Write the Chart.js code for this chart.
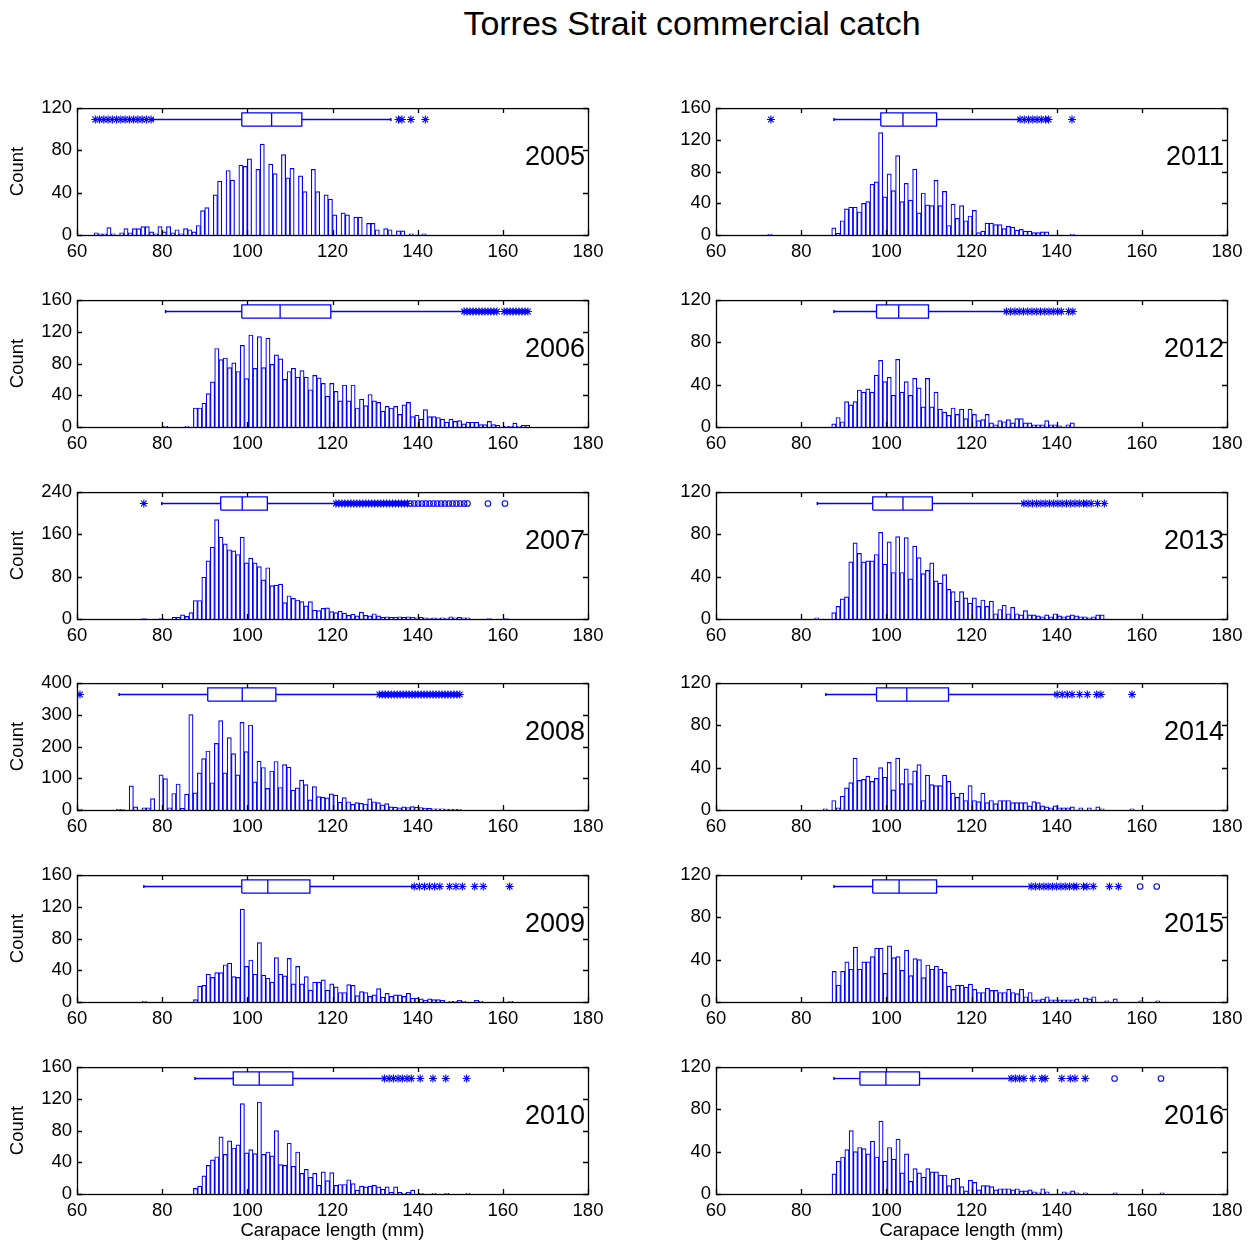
<!DOCTYPE html>
<html>
<head>
<meta charset="utf-8">
<script src="https://cdn.jsdelivr.net/npm/chart.js@4.4.0/dist/chart.umd.min.js"></script>
<style>
  body { margin: 0; background: #fff; overflow: hidden; width: 1250px; height: 1243px; position: relative;
         font-family: "Liberation Sans", Arial, sans-serif; }
  #title { position: absolute; left: 692px; top: 4px; transform: translateX(-50%);
           font-size: 34px; line-height: 38px; white-space: nowrap; color: #000; }
  canvas { position: absolute; }
</style>
</head>
<body>
<div id="title">Torres Strait commercial catch</div>
<script>
// panels: left column 2005-2010, right column 2011-2016
const years = [2005, 2006, 2007, 2008, 2009, 2010, 2011, 2012, 2013, 2014, 2015, 2016];
// left edge (mm) of the first 1 mm bin in each histogram
const binStart = [64, 80.33, 75.3, 60.25, 75.33, 87.33, 72.17, 87.17, 83.17, 85.17, 87.25, 87.25];
const yMax  = [120, 160, 240, 400, 160, 160, 160, 120, 120, 120, 120, 120];
const yStep = [40, 40, 80, 100, 40, 40, 40, 40, 40, 40, 40, 40];

// histogram counts, one per 1 mm bin
const c2005 = [2,1,1,7,1,0,2,6,2,6, 6,8,8,3,1,8,3,8,2,5, 1,6,5,3,9,23,26,0,38,51, 0,61,52,0,66,65,72,0,62,86,
  0,67,58,0,76,54,63,0,56,41, 0,62,41,0,38,34,19,0,21,19, 0,17,17,0,11,11,5,0,6,5, 0,4,4,0,1,0,0,1];
const c2006 = [1,0,0,0,0,1,0,
  24,24,30,42,57,99,85,87,75,81, 70,103,61,116,74,114,75,112,79,91, 86,60,70,74,63,71,63,47,65,62,
  55,39,55,45,33,53,33,53,24,35, 27,41,33,31,20,26,24,26,16,28, 31,13,15,10,22,13,13,12,10,6,
  10,7,8,4,6,6,6,3,3,7, 3,2,0,1,1,5,1,2,2];
const c2007 = [1,0,0,0,1,0,0,
  3,3,8,5,12,35,35,79,110,136, 188,155,142,131,129,122,155,106,115,106, 99,74,97,63,64,66,31,44,39,36,
  33,25,33,17,16,20,21,14,12,15, 11,7,9,6,13,7,6,10,
  6,3,4,3,3,4,3,4,3,2,3,2,1,2,1,2,1,4,2,3,2,2, 0,0,0,0,1,0,0,0,1];
const c2008 = [3,0,0,0,0,0,0,0,0,2, 1,0,76,10,0,7,7,36,0,111, 99,7,52,82,5,50,301,54,117,162,
  186,86,210,282,117,228,178,111,276,184, 268,89,154,134,68,123,153,71,143,135, 63,70,94,80,32,74,42,40,38,51,
  47,25,39,26,18,23,21,19,35,26, 23,16,20,10,9,7,10,8,11,9, 8,6,5,4,4,4,3,3,2,2];
const c2009 = [1,0,0,0,0,0,0,0,0,0,0,0,
  3,20,21,35,31,37,37,47,49,32, 31,117,45,53,35,75,34,30,25,56, 35,33,55,23,45,23,32,15,25,25,
  28,15,23,19,12,12,22,21,8,13, 12,7,9,17,6,11,7,9,9,7, 11,5,5,4,2,4,3,3,2,0,
  1,1,2,1,0,0,2,1,0,0, 0,0,0,0,1];
const c2010 = [7,10,23,36,43,47,72,50,67,58, 62,114,52,56,51,116,50,53,48,80, 37,36,64,35,53,26,31,21,26,11,
  28,17,27,11,12,12,18,13,5,10, 9,10,11,9,6,9,2,9,2,1, 2,5,0,1,0,0,1,0,0,1, 0,0,0,0,1];
const c2011 = [1,0,0,0,0,0,0,0,0,0,0,0,0,0,0,
  9,2,18,33,35,35,29,40,42,64, 67,129,48,77,56,100,42,65,44,83, 28,53,38,37,69,37,55,12,39,21,
  37,18,24,31,3,5,15,15,13,13, 8,11,10,6,7,5,5,3,3,4, 4, 0,0,0,0,0,1];
const c2012 = [3,9,5,24,21,24,35,33,36,33, 49,63,43,47,30,64,33,43,30,46, 37,19,46,19,33,17,14,11,18,12,
  17,8,17,12,6,7,12,4,2,6, 5,7,4,8,8,4,4,2,2,2, 6,2,2,1,0,2,4];
const c2013 = [1,0,0,0,
  6,12,19,21,54,72,62,54,55,55, 61,82,52,73,44,78,44,77,38,69, 58,43,46,53,36,34,42,28,26,17,
  26,20,15,20,12,18,12,17,5,9, 13,5,11,5,4,8,4,4,3,2, 4,2,5,3,2,3,4,3,2,2, 1,2,4,4];
const c2014 = [1,0,
  9,2,13,21,26,49,28,29,32,27, 30,40,31,45,19,49,25,39,25,37, 43,9,33,24,23,23,33,27,16,12,
  16,9,23,9,8,16,7,9,6,9, 9,9,7,7,7,7,4,8,7,4, 3,2,4,2,2,2,3,0,2,0, 2,0,3,1, 0,0,0,0,0,0,1];
const c2015 = [29,16,29,38,31,52,31,38,38,43, 51,51,27,53,42,43,30,49,25,41, 40,23,35,31,34,31,28,15,12,16,
  16,14,17,12,9,9,13,11,11,9, 9,12,9,8,12,5,9,2,2,3, 5,2,2,2,2,2,2,3,0,4, 3,5,0,0,1,0,3,0,0,0, 0,0,1,0,0,0,1];
const c2016 = [19,31,35,42,60,40,44,43,38,50, 35,69,31,44,33,52,20,38,12,24, 20,16,24,21,21,18,18,8,14,15,
  7,3,13,11,4,8,8,7,4,5, 5,5,4,5,3,3,4,2,1,5, 2,0,0,0,2,1,3,1,0,1, 0,0,0,0,0,0,1,0,0,0, 0,0,0,0,0,0,0,1];
const counts = [c2005, c2006, c2007, c2008, c2009, c2010, c2011, c2012, c2013, c2014, c2015, c2016];

// box plot summaries (mm)
const q1        = [98.7, 98.7, 93.75, 90.7, 98.7, 96.7, 98.7, 97.7, 96.8, 97.7, 96.8, 93.8];
const median    = [105.7, 107.7, 98.8, 98.8, 104.8, 102.8, 103.9, 102.9, 103.9, 104.8, 103.0, 99.9];
const q3        = [112.8, 119.6, 104.7, 106.7, 114.7, 110.7, 111.8, 109.9, 110.8, 114.6, 111.8, 107.8];
const whiskerLo = [77.9, 80.8, 79.9, 69.9, 75.7, 87.7, 87.7, 87.7, 83.8, 85.8, 87.7, 87.7];
const whiskerHi = [133.7, 150.6, 120.6, 130.8, 138.6, 132.0, 131.0, 127.9, 132.0, 139.5, 133.8, 129.1];

// outliers drawn as '*'
const out2005 = [64.3, 65.3, 66.3, 67.3, 68.3, 69.3, 70.3, 71.3, 72.3, 73.3, 74.3, 75.3, 76.3, 77.4, 135.5, 136.3, 138.4, 141.8];
const out2006 = [150.9, 151.6, 152.3, 153, 153.7, 154.4, 155.1, 155.8, 156.5, 157.2, 157.9, 158.6,
  160.3, 161.0, 161.7, 162.4, 163.1, 163.8, 164.5, 165.2, 165.9];
const out2007 = [75.7, 120.8, 121.5, 122.2, 122.9, 123.6, 124.3, 125, 125.7, 126.4, 127.1, 127.8, 128.5, 129.2,
  129.9, 130.6, 131.3, 132, 132.7, 133.4, 134.1, 134.8, 135.5, 136.2, 136.9, 137.6];
const out2008 = [60.7, 131, 131.7, 132.4, 133.1, 133.8, 134.5, 135.2, 135.9, 136.6, 137.3, 138, 138.7, 139.4, 140.1,
  140.8, 141.5, 142.2, 142.9, 143.6, 144.3, 145, 145.7, 146.4, 147.1, 147.8, 148.5, 149.2, 149.9];
const out2009 = [139.2, 140.4, 141.6, 142.8, 144, 145.2, 147.5, 149, 150.5, 153.4, 155.4, 161.6];
const out2010 = [132.2, 133.3, 134.3, 135.4, 136.4, 137.5, 138.5, 140.6, 143.6, 146.6, 151.5];
const out2011 = [72.9, 131.4, 132.4, 133.4, 134.4, 135.4, 136.4, 137.4, 138.1, 143.6];
const out2012 = [128.2, 129.2, 130.2, 131.2, 132.2, 133.2, 134.2, 135.2, 136.2, 137.2, 138.2, 139.2, 140.2, 141.1, 142.8, 143.8];
const out2013 = [132.3, 133.3, 134.3, 135.3, 136.3, 137.3, 138.3, 139.3, 140.3, 141.3, 142.3, 143.3, 144.3, 145.3,
  146.3, 147.1, 148.1, 149.6, 151.2];
const out2014 = [140.1, 141.3, 142.5, 143.6, 145.4, 147.2, 149.4, 150.4, 157.7];
const out2015 = [134, 135, 136, 137, 138, 139, 140, 141, 142, 143, 144, 144.7, 146.3, 147.1, 148.6, 152.4, 154.5];
const out2016 = [129.3, 130.3, 131.3, 132.3, 134.4, 136.5, 137.3, 141.2, 143.2, 144.3, 146.7];
const outliers = [out2005, out2006, out2007, out2008, out2009, out2010, out2011, out2012, out2013, out2014, out2015, out2016];

// extreme outliers drawn as 'o'
const far2007 = [138.3, 139.2, 140.1, 141, 141.9, 142.8, 143.7, 144.6, 145.5, 146.4, 147.3, 148.2, 149.1, 150, 150.9, 151.7, 156.5, 160.5];
const far2015 = [159.6, 163.5];
const far2016 = [153.6, 164.5];
const farOutliers = [[], [], far2007, [], [], [], [], [], [], [], far2015, far2016];

const blue = '#0000ff';
const plotTops = [107, 299, 491, 682, 874, 1066];
const fontFamily = '"Liberation Sans", Arial, Helvetica, sans-serif';

Chart.defaults.font.family = fontFamily;
Chart.defaults.font.size = 18.5;
Chart.defaults.color = '#000';

// MATLAB-like box with inward ticks on all four sides, plus the year label
const panelDecor = {
  id: 'panelDecor',
  afterDraw(chart, args, opts) {
    const {ctx, chartArea: a, scales: {x, y}} = chart;
    ctx.save();
    ctx.strokeStyle = '#000';
    ctx.lineWidth = 1.3;
    ctx.beginPath();
    x.ticks.forEach(t => {
      const px = Math.round(x.getPixelForValue(t.value)) + 0.5;
      ctx.moveTo(px, a.bottom); ctx.lineTo(px, a.bottom - 5);
      ctx.moveTo(px, a.top); ctx.lineTo(px, a.top + 5);
    });
    y.ticks.forEach(t => {
      const py = Math.round(y.getPixelForValue(t.value)) + 0.5;
      ctx.moveTo(a.left, py); ctx.lineTo(a.left + 5, py);
      ctx.moveTo(a.right, py); ctx.lineTo(a.right - 5, py);
    });
    ctx.stroke();
    ctx.strokeRect(a.left + 0.5, a.top + 0.5, a.right - a.left, a.bottom - a.top);
    ctx.font = '27px ' + fontFamily;
    ctx.fillStyle = '#000';
    ctx.textAlign = 'right';
    ctx.textBaseline = 'middle';
    ctx.fillText(opts.label, a.right - 3, a.top + 49);
    ctx.restore();
  }
};

function lineSet(points, extra) {
  return Object.assign({
    type: 'line', data: points, borderColor: blue, borderWidth: 1.3,
    pointRadius: 0, fill: false, tension: 0
  }, extra || {});
}

years.forEach((year, i) => {
  const col = i < 6 ? 0 : 1;
  const row = i % 6;
  const bottomRow = row === 5;
  const xAxisH = bottomRow ? 48 : 30;
  const width = col === 0 ? 625 : 611;

  const canvas = document.createElement('canvas');
  canvas.width = width;
  canvas.height = 15 + 128 + xAxisH;
  canvas.style.left = (col === 0 ? 0 : 639) + 'px';
  canvas.style.top = (plotTops[row] - 15) + 'px';
  document.body.appendChild(canvas);

  const ym = 0.91 * yMax[i];
  const hh = 0.052 * yMax[i];
  const bars = counts[i].map((v, k) => ({x: binStart[i] + k + 0.5, y: v}));

  new Chart(canvas, {
    type: 'bar',
    data: {
      datasets: [
        lineSet([{x: q1[i], y: ym - hh}, {x: q3[i], y: ym - hh}, {x: q3[i], y: ym + hh},
                 {x: q1[i], y: ym + hh}, {x: q1[i], y: ym - hh}]),
        lineSet([{x: median[i], y: ym - hh}, {x: median[i], y: ym + hh}]),
        lineSet([{x: whiskerLo[i], y: ym}, {x: q1[i], y: ym}],
                {pointRadius: [1.6, 0], pointStyle: 'line', rotation: 90, pointBorderColor: blue, pointBorderWidth: 1.5}),
        lineSet([{x: q3[i], y: ym}, {x: whiskerHi[i], y: ym}],
                {pointRadius: [0, 1.6], pointStyle: 'line', rotation: 90, pointBorderColor: blue, pointBorderWidth: 1.5}),
        {
          type: 'scatter', data: outliers[i].map(v => ({x: v, y: ym})),
          pointStyle: 'star', pointRadius: 4, borderColor: blue, backgroundColor: 'rgba(0,0,0,0)', borderWidth: 1.1
        },
        {
          type: 'scatter', data: farOutliers[i].map(v => ({x: v, y: ym})),
          pointStyle: 'circle', pointRadius: 2.8, borderColor: blue, backgroundColor: 'rgba(0,0,0,0)', borderWidth: 1.1
        },
        {
          type: 'bar', data: bars, backgroundColor: '#ffffff', borderColor: blue, borderWidth: 1.2,
          barPercentage: 1, categoryPercentage: 1
        }
      ]
    },
    options: {
      responsive: false,
      animation: false,
      events: [],
      layout: {padding: {top: 15, right: width - 588, bottom: 0, left: 0}},
      plugins: {
        legend: {display: false},
        tooltip: {enabled: false},
        panelDecor: {label: String(year)}
      },
      scales: {
        x: {
          type: 'linear', min: 60, max: 180, offset: false,
          grid: {display: false, drawTicks: false},
          border: {display: false},
          ticks: {stepSize: 20, padding: 6, maxRotation: 0, autoSkip: false},
          title: {display: bottomRow, text: 'Carapace length (mm)', padding: {top: 0, bottom: 0}},
          afterFit: s => { s.height = xAxisH; }
        },
        y: {
          type: 'linear', min: 0, max: yMax[i],
          grid: {display: false, drawTicks: false},
          border: {display: false},
          ticks: {stepSize: yStep[i], padding: 5},
          title: {display: col === 0, text: 'Count', padding: {top: 7, bottom: 0}},
          afterFit: s => { s.width = 77; }
        }
      }
    },
    plugins: [panelDecor]
  });
});
</script>
</body>
</html>
